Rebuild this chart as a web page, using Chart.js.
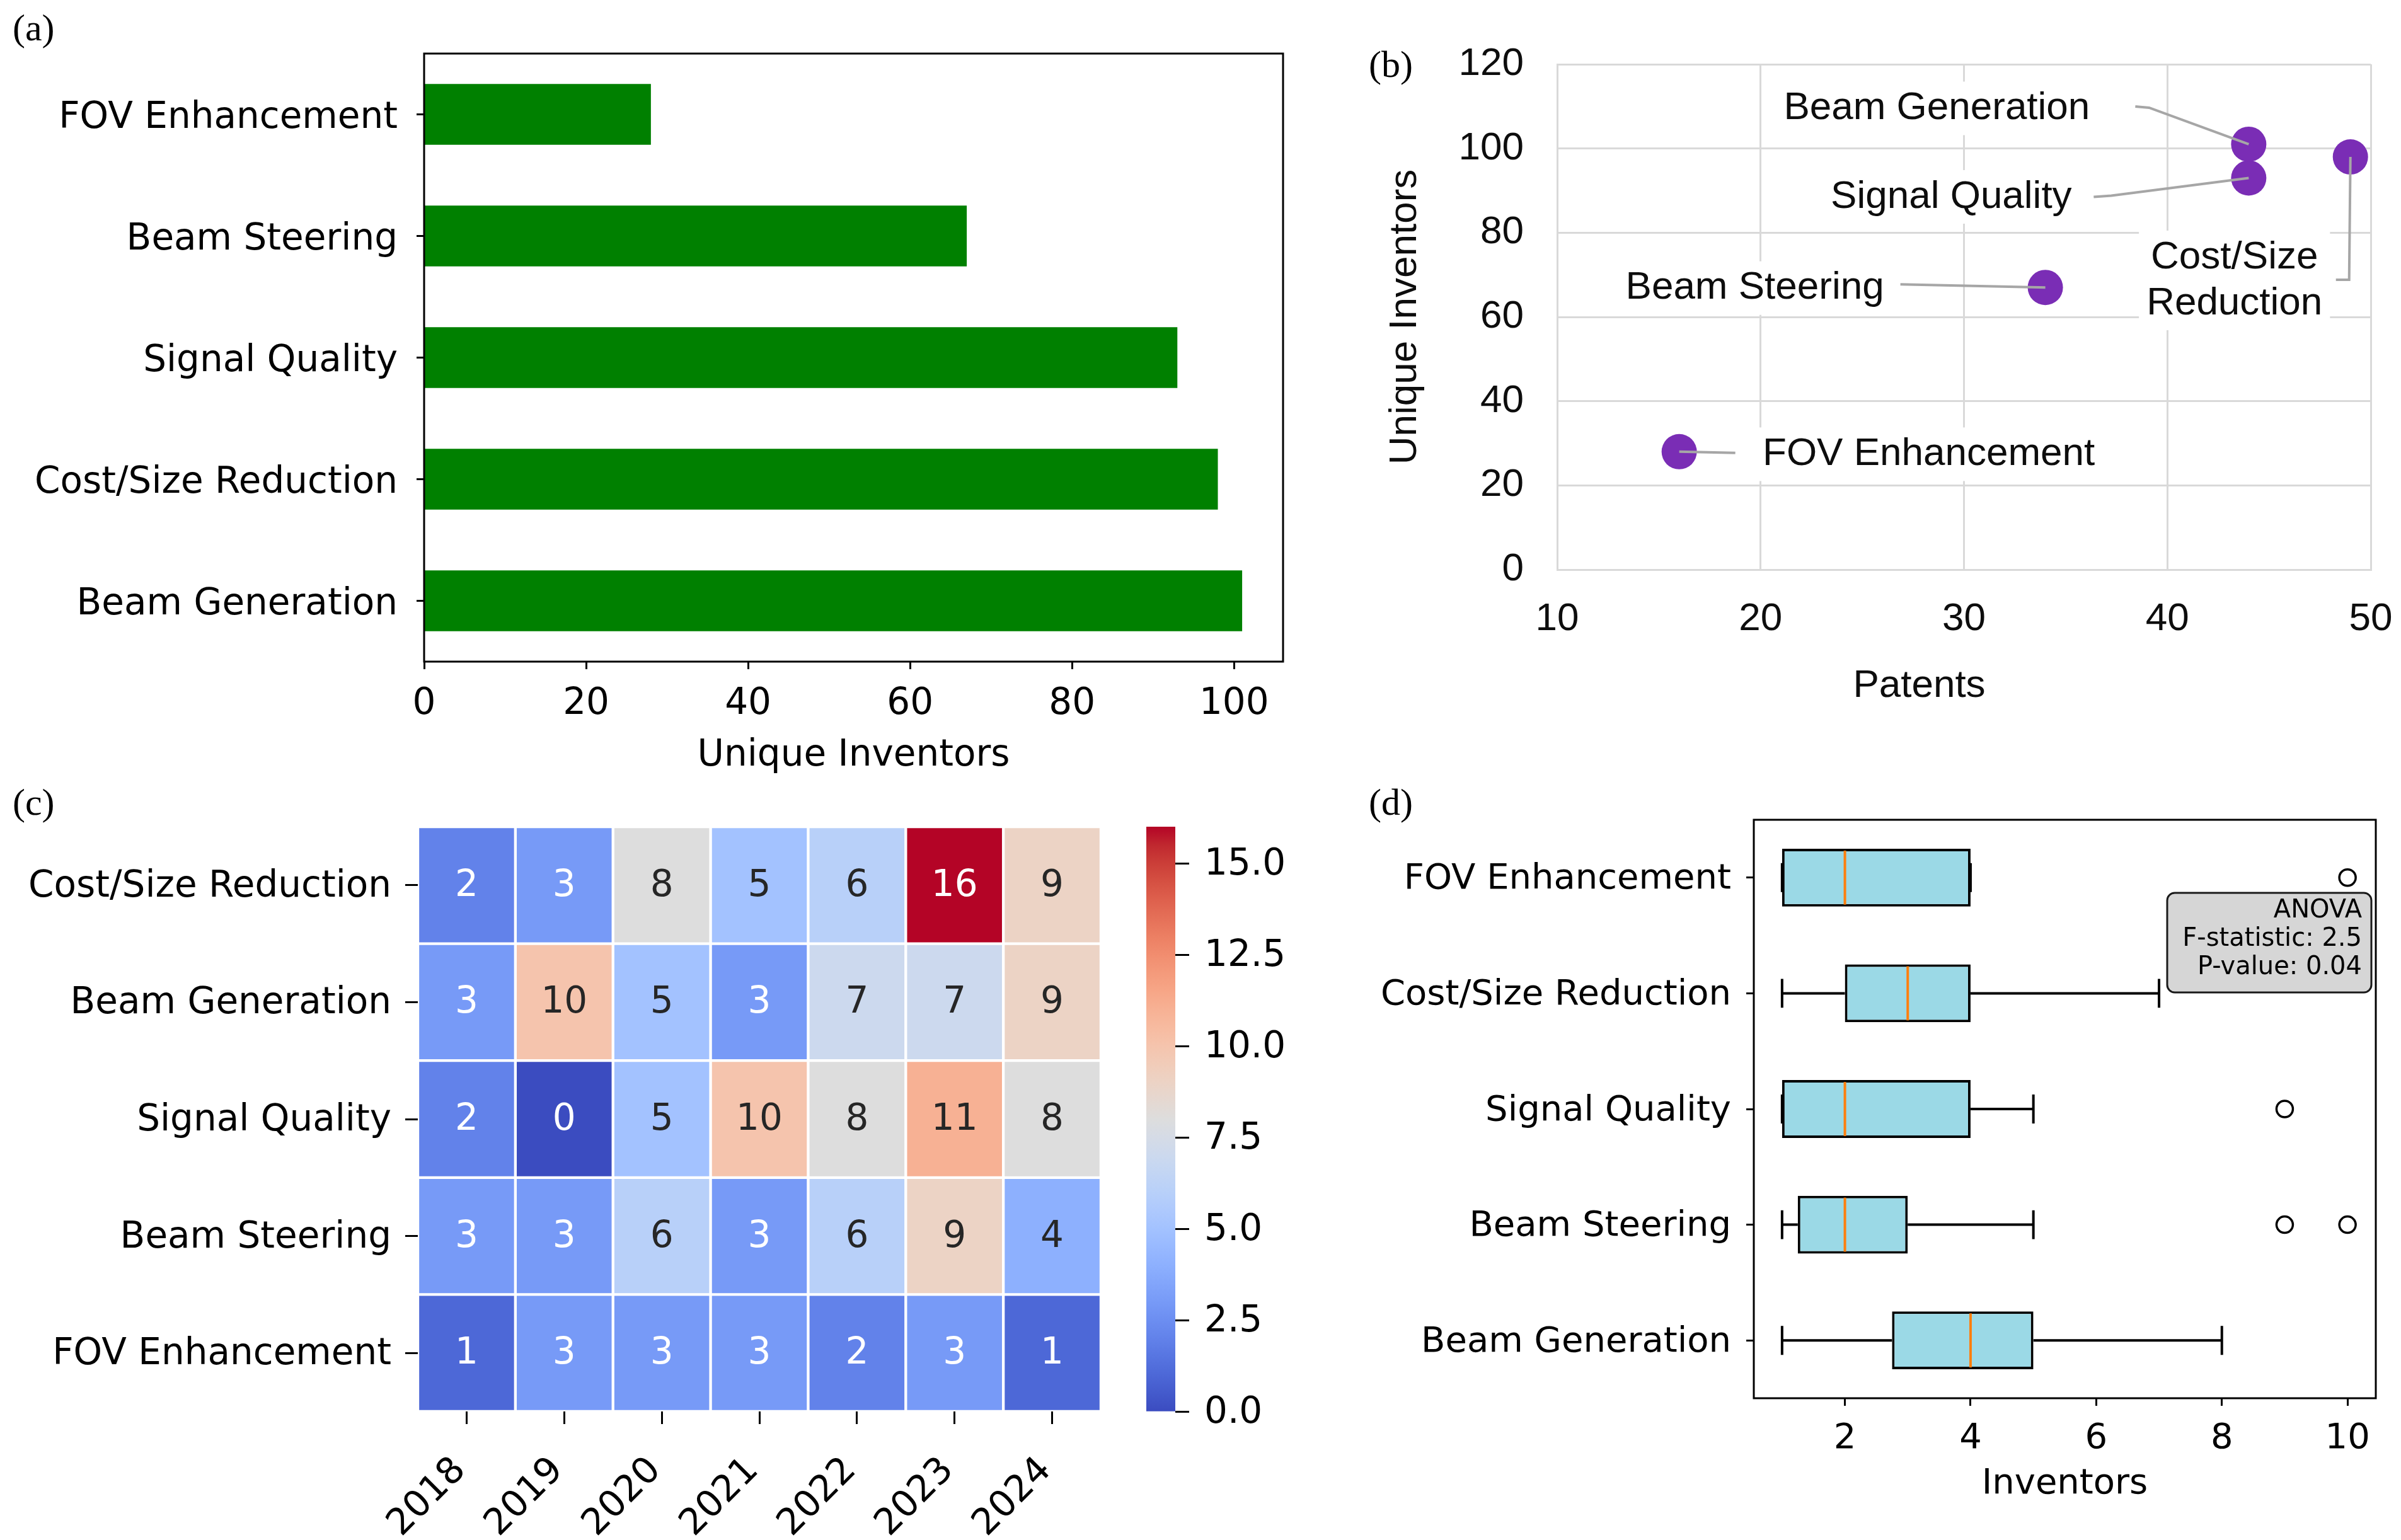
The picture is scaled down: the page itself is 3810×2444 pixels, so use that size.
<!DOCTYPE html>
<html>
<head>
<meta charset="utf-8">
<script src="https://cdn.jsdelivr.net/npm/chart.js@4.4.1/dist/chart.umd.min.js"></script>
<style>
  html, body { margin: 0; padding: 0; background: #fff; }
  body { width: 3810px; height: 2444px; position: relative; overflow: hidden; }
  .box { position: absolute; }
  .tag { position: absolute; font-family: "Liberation Serif", "Times New Roman", serif; font-size: 60px; line-height: 1; color: #000; }
</style>
</head>
<body>
<div class="tag" style="left:20px;top:14px">(a)</div>
<div class="tag" style="left:2172px;top:72px">(b)</div>
<div class="tag" style="left:20px;top:1243px">(c)</div>
<div class="tag" style="left:2172px;top:1243px">(d)</div>

<div class="box" style="left:0;top:0;width:2080px;height:1240px"><canvas id="barChart"></canvas></div>
<div class="box" style="left:2150px;top:0;width:1660px;height:1180px"><canvas id="scatterChart"></canvas></div>
<div class="box" style="left:0;top:1230px;width:1790px;height:1214px"><canvas id="heatChart"></canvas></div>
<div class="box" style="left:1779px;top:1230px;width:330px;height:1214px"><canvas id="cbarChart"></canvas></div>
<div class="box" style="left:2150px;top:1230px;width:1660px;height:1214px"><canvas id="boxChart"></canvas></div>

<script>
// (a) + (b) topic totals
const topics = ["FOV Enhancement", "Beam Steering", "Signal Quality", "Cost/Size Reduction", "Beam Generation"];
const inventorTotals = [28, 67, 93, 98, 101];
const patentTotals = [16, 34, 44, 49, 44];

// (c) yearly heatmap
const years = ["2018", "2019", "2020", "2021", "2022", "2023", "2024"];
const heatRows = ["Cost/Size Reduction", "Beam Generation", "Signal Quality", "Beam Steering", "FOV Enhancement"];
const costSizeByYear = [2, 3, 8, 5, 6, 16, 9];
const beamGenByYear = [3, 10, 5, 3, 7, 7, 9];
const signalByYear = [2, 0, 5, 10, 8, 11, 8];
const steeringByYear = [3, 3, 6, 3, 6, 9, 4];
const fovByYear = [1, 3, 3, 3, 2, 3, 1];
const heatValues = [costSizeByYear, beamGenByYear, signalByYear, steeringByYear, fovByYear];
const colorMin = 0, colorMax = 16;
const colorTicks = [0, 2.5, 5, 7.5, 10, 12.5, 15];

// (d) inventors per patent, box stats
const boxTopics = ["FOV Enhancement", "Cost/Size Reduction", "Signal Quality", "Beam Steering", "Beam Generation"];
const boxMin = [1, 1, 1, 1, 1];
const boxQ1 = [1, 2, 1, 1.25, 2.75];
const boxMedian = [2, 3, 2, 2, 4];
const boxQ3 = [4, 4, 4, 3, 5];
const boxMax = [4, 7, 5, 5, 8];
const outlierTopics = ["FOV Enhancement", "Signal Quality", "Beam Steering", "Beam Steering"];
const outlierValues = [10, 9, 9, 10];
const anovaLines = ["ANOVA", "F-statistic: 2.5", "P-value: 0.04"];

const MPL = "'DejaVu Sans', sans-serif";
const XL = "'Liberation Sans', Arial, sans-serif";
Chart.defaults.font.family = MPL;
Chart.defaults.color = "#000";

// matplotlib coolwarm
const coolwarmStops = [
  [59,76,192],[68,90,204],[77,104,215],[87,117,225],[98,130,234],[108,142,241],[119,154,247],[130,165,251],
  [141,176,254],[152,185,255],[163,194,255],[174,201,253],[184,208,249],[194,213,244],[204,217,238],[213,219,230],
  [221,221,221],[229,216,209],[236,211,197],[241,204,185],[245,196,173],[247,187,160],[247,177,148],[247,166,135],
  [244,154,123],[241,141,111],[236,127,99],[229,112,88],[222,96,77],[213,80,66],[203,62,56],[192,40,47],[180,4,38]
];
function coolwarmRGB(t) {
  t = Math.max(0, Math.min(1, t));
  const p = t * 32, i = Math.min(31, Math.floor(p)), f = p - i;
  const a = coolwarmStops[i], b = coolwarmStops[i + 1];
  return a.map((c, k) => Math.round(c + (b[k] - c) * f));
}
const rgb = c => `rgb(${c[0]},${c[1]},${c[2]})`;
function annotColor(rgbArr) {
  const lin = rgbArr.map(v => { v /= 255; return v <= 0.03928 ? v / 12.92 : Math.pow((v + 0.055) / 1.055, 2.4); });
  const lum = 0.2126 * lin[0] + 0.7152 * lin[1] + 0.0722 * lin[2];
  return lum > 0.408 ? "#262626" : "#ffffff";
}

const framePlugin = {
  id: "frame",
  afterDatasetsDraw(chart) {
    const { ctx, chartArea: a } = chart;
    ctx.save();
    ctx.strokeStyle = "#000";
    ctx.lineWidth = 3;
    ctx.strokeRect(a.left, a.top, a.right - a.left, a.bottom - a.top);
    ctx.restore();
  }
};

const fixedTicks = vals => scale => { scale.ticks = vals.map(v => ({ value: v })); };
const mplGrid = len => ({ drawOnChartArea: false, offset: false, tickLength: len, tickWidth: 3, tickColor: "#000" });

// ---------- (a) bar ----------
new Chart(document.getElementById("barChart"), {
  type: "bar",
  data: {
    labels: topics,
    datasets: [{ data: inventorTotals, backgroundColor: "#008000", barPercentage: 0.5, categoryPercentage: 1 }]
  },
  options: {
    indexAxis: "y",
    responsive: true, maintainAspectRatio: false, animation: false, devicePixelRatio: 1,
    layout: { padding: { top: 85, right: 44, left: 0, bottom: 0 } },
    plugins: { legend: { display: false }, tooltip: { enabled: false } },
    scales: {
      x: {
        min: 0, max: 106.05,
        afterBuildTicks: fixedTicks([0, 20, 40, 60, 80, 100]),
        afterFit: s => { s.height = 190; },
        grid: mplGrid(12), border: { display: false },
        ticks: { font: { size: 58 }, padding: 21, maxRotation: 0 },
        title: { display: true, text: "Unique Inventors", font: { size: 58 }, padding: { top: 0, bottom: 5 } }
      },
      y: {
        afterFit: s => { s.width = 673; },
        grid: mplGrid(12), border: { display: false },
        ticks: { font: { size: 58 }, padding: 30, labelOffset: 6 }
      }
    }
  },
  plugins: [framePlugin]
});

// ---------- (b) scatter ----------
const scatterCallouts = [
  { lines: ["FOV Enhancement"], dx: 396, dy: 4, path: [[89, 2], [0, 0]] },
  { lines: ["Beam Steering"], dx: -461, dy: 1, path: [[-230, -5], [0, 0]] },
  { lines: ["Signal Quality"], dx: -472, dy: 30, path: [[-246, 30], [-218, 28], [0, 0]] },
  { lines: ["Cost/Size", "Reduction"], dx: -184, dy: 196, path: [[-23, 195], [-2, 195], [0, 0]] },
  { lines: ["Beam Generation"], dx: -495, dy: -57, path: [[-180, -60], [-158, -58], [0, 0]] }
];
const calloutPlugin = {
  id: "callouts",
  afterDatasetsDraw(chart) {
    const { ctx, chartArea: a } = chart;
    const pts = chart.getDatasetMeta(0).data;
    const lh = 73;
    ctx.save();
    ctx.font = "62px " + XL;
    scatterCallouts.forEach((c, i) => {
      const p = pts[i];
      const cx = p.x + c.dx, cy = p.y + c.dy;
      const w = Math.max(...c.lines.map(l => ctx.measureText(l).width));
      const h = lh * c.lines.length;
      ctx.fillStyle = "#fff";
      ctx.fillRect(cx - w / 2 - 12, cy - h / 2 - 6, w + 24, h + 12);
      ctx.fillStyle = "#0d0d0d";
      ctx.textAlign = "center";
      ctx.textBaseline = "middle";
      c.lines.forEach((l, k) => ctx.fillText(l, cx, cy - h / 2 + lh * (k + 0.5)));
      ctx.strokeStyle = "#a6a6a6";
      ctx.lineWidth = 4;
      ctx.beginPath();
      c.path.forEach(([x, y], k) => k ? ctx.lineTo(p.x + x, p.y + y) : ctx.moveTo(p.x + x, p.y + y));
      ctx.stroke();
    });
    // x-axis title, set left of centre as in the Excel original
    ctx.fillStyle = "#0d0d0d";
    ctx.textAlign = "center";
    ctx.textBaseline = "middle";
    ctx.fillText("Patents", (a.left + a.right) / 2 - 71, a.bottom + 185);
    ctx.restore();
  }
};
new Chart(document.getElementById("scatterChart"), {
  type: "scatter",
  data: {
    datasets: [{
      data: topics.map((t, i) => ({ x: patentTotals[i], y: inventorTotals[i] })),
      backgroundColor: "#7a2db5", borderWidth: 0, pointRadius: 28
    }]
  },
  options: {
    responsive: true, maintainAspectRatio: false, animation: false, devicePixelRatio: 1,
    layout: { padding: { top: 102, right: 48, left: 0, bottom: 0 } },
    plugins: { legend: { display: false }, tooltip: { enabled: false } },
    scales: {
      x: {
        min: 10, max: 50,
        afterBuildTicks: fixedTicks([10, 20, 30, 40, 50]),
        afterFit: s => { s.height = 276; },
        // invisible tick marks give the label gap without widening the right padding
        grid: { color: "#d9d9d9", lineWidth: 3, drawTicks: true, tickLength: 42, tickColor: "rgba(0,0,0,0)" },
        border: { color: "#d9d9d9", width: 3 },
        ticks: { font: { size: 62, family: XL }, color: "#0d0d0d", padding: 0, maxRotation: 0 }
      },
      y: {
        min: 0, max: 120,
        afterBuildTicks: fixedTicks([0, 20, 40, 60, 80, 100, 120]),
        afterFit: s => { s.width = 321; },
        grid: { color: "#d9d9d9", lineWidth: 3, drawTicks: false },
        border: { color: "#d9d9d9", width: 3 },
        ticks: { font: { size: 62, family: XL }, color: "#0d0d0d", padding: 53 },
        title: { display: true, text: "Unique Inventors", font: { size: 62, family: XL }, color: "#0d0d0d", padding: { top: 43, bottom: 0 } }
      }
    }
  },
  plugins: [calloutPlugin]
});

// ---------- (c) heatmap ----------
const heatLabelPlugin = {
  id: "heatLabels",
  afterDatasetsDraw(chart) {
    const ctx = chart.ctx;
    ctx.save();
    ctx.font = "58px " + MPL;
    ctx.textAlign = "center";
    ctx.textBaseline = "middle";
    heatValues.forEach((row, r) => {
      const meta = chart.getDatasetMeta(r);
      row.forEach((v, c) => {
        const p = meta.data[c].getCenterPoint();
        ctx.fillStyle = annotColor(coolwarmRGB((v - colorMin) / (colorMax - colorMin)));
        ctx.fillText(String(v), p.x, p.y + 2);
      });
    });
    ctx.restore();
  }
};
new Chart(document.getElementById("heatChart"), {
  type: "bar",
  data: {
    labels: years,
    datasets: heatValues.map((row, r) => ({
      label: heatRows[r],
      data: row.map(() => [r - 0.5, r + 0.5]),
      backgroundColor: row.map(v => rgb(coolwarmRGB((v - colorMin) / (colorMax - colorMin)))),
      borderColor: "#fff", borderWidth: 2.5, borderSkipped: false,
      barPercentage: 1, categoryPercentage: 1, grouped: false
    }))
  },
  options: {
    responsive: true, maintainAspectRatio: false, animation: false, devicePixelRatio: 1,
    layout: { padding: { top: 82, right: 43, left: 0, bottom: 0 } },
    plugins: { legend: { display: false }, tooltip: { enabled: false } },
    scales: {
      x: {
        afterFit: s => { s.height = 204; },
        grid: mplGrid(20), border: { display: false },
        ticks: { font: { size: 58 }, padding: 40, labelOffset: -10, minRotation: 45, maxRotation: 45, autoSkip: false }
      },
      y: {
        min: -0.5, max: 4.5, reverse: true,
        afterBuildTicks: fixedTicks([0, 1, 2, 3, 4]),
        afterFit: s => { s.width = 663; },
        grid: mplGrid(20), border: { display: false },
        ticks: { font: { size: 58 }, padding: 22, labelOffset: 3, callback: v => heatRows[v] }
      }
    }
  },
  plugins: [heatLabelPlugin]
});

// colorbar
new Chart(document.getElementById("cbarChart"), {
  type: "bar",
  data: {
    labels: [""],
    datasets: [{
      data: [[colorMin, colorMax]],
      barPercentage: 1, categoryPercentage: 1, borderWidth: 0,
      backgroundColor: ctx => {
        const a = ctx.chart.chartArea;
        if (!a) return "#ccc";
        const g = ctx.chart.ctx.createLinearGradient(0, a.bottom, 0, a.top);
        coolwarmStops.forEach((c, i) => g.addColorStop(i / 32, rgb(c)));
        return g;
      }
    }]
  },
  options: {
    responsive: true, maintainAspectRatio: false, animation: false, devicePixelRatio: 1,
    layout: { padding: { top: 82, right: 0, left: 40, bottom: 204 } },
    plugins: { legend: { display: false }, tooltip: { enabled: false } },
    scales: {
      x: { display: false },
      y: {
        position: "right", min: colorMin, max: colorMax,
        afterBuildTicks: fixedTicks(colorTicks),
        afterFit: s => { s.width = 244; },
        grid: mplGrid(22), border: { display: false },
        ticks: { font: { size: 58 }, padding: 24, labelOffset: 3, callback: v => Number(v).toFixed(1) }
      }
    }
  }
});

// ---------- (d) box plot ----------
const boxPlugin = {
  id: "boxParts",
  beforeDatasetsDraw(chart) {
    const { ctx, scales: { x, y } } = chart;
    const meta = chart.getDatasetMeta(0);
    ctx.save();
    ctx.strokeStyle = "#000";
    ctx.lineWidth = 4;
    boxTopics.forEach((t, i) => {
      const h = meta.data[i].height;
      const yc = y.getPixelForValue(i);
      const [x0, x1, x2, x3] = [boxMin[i], boxQ1[i], boxQ3[i], boxMax[i]].map(v => x.getPixelForValue(v));
      ctx.beginPath();
      ctx.moveTo(x0, yc); ctx.lineTo(x1, yc);
      ctx.moveTo(x2, yc); ctx.lineTo(x3, yc);
      ctx.moveTo(x0, yc - h / 4); ctx.lineTo(x0, yc + h / 4);
      ctx.moveTo(x3, yc - h / 4); ctx.lineTo(x3, yc + h / 4);
      ctx.stroke();
    });
    ctx.restore();
  },
  afterDatasetsDraw(chart) {
    const { ctx, scales: { x, y }, chartArea: a } = chart;
    const meta = chart.getDatasetMeta(0);
    ctx.save();
    ctx.strokeStyle = "#ff7f0e";
    ctx.lineWidth = 4;
    boxTopics.forEach((t, i) => {
      const h = meta.data[i].height;
      const yc = y.getPixelForValue(i);
      const xm = x.getPixelForValue(boxMedian[i]);
      ctx.beginPath();
      ctx.moveTo(xm, yc - h / 2 + 3); ctx.lineTo(xm, yc + h / 2 - 3);
      ctx.stroke();
    });
    // ANOVA text box
    const bx0 = a.right - 331, bx1 = a.right - 7, by0 = a.top + 116, by1 = a.top + 274;
    ctx.beginPath();
    ctx.roundRect(bx0, by0, bx1 - bx0, by1 - by0, 12);
    ctx.fillStyle = "#d6d6d6";
    ctx.fill();
    ctx.strokeStyle = "#1a1a1a";
    ctx.lineWidth = 3;
    ctx.stroke();
    ctx.fillStyle = "#000";
    ctx.font = "40px " + MPL;
    ctx.textAlign = "right";
    ctx.textBaseline = "middle";
    anovaLines.forEach((l, k) => ctx.fillText(l, a.right - 22, a.top + 145 + k * 45));
    ctx.restore();
  }
};
new Chart(document.getElementById("boxChart"), {
  type: "bar",
  data: {
    labels: boxTopics,
    datasets: [
      {
        type: "bar",
        data: boxTopics.map((t, i) => [boxQ1[i], boxQ3[i]]),
        backgroundColor: "#9bd9e6", borderColor: "#000", borderWidth: 4, borderSkipped: false,
        barPercentage: 0.5, categoryPercentage: 1
      },
      {
        type: "scatter", indexAxis: "x",
        data: outlierValues.map((v, i) => ({ x: v, y: outlierTopics[i] })),
        pointRadius: 13, borderWidth: 3.5, borderColor: "#000", backgroundColor: "rgba(0,0,0,0)"
      }
    ]
  },
  options: {
    indexAxis: "y",
    responsive: true, maintainAspectRatio: false, animation: false, devicePixelRatio: 1,
    layout: { padding: { top: 71, right: 40, left: 0, bottom: 0 } },
    plugins: { legend: { display: false }, tooltip: { enabled: false } },
    scales: {
      x: {
        type: "linear", min: 0.55, max: 10.45,
        afterBuildTicks: fixedTicks([2, 4, 6, 8, 10]),
        afterFit: s => { s.height = 225; },
        grid: mplGrid(12), border: { display: false },
        ticks: { font: { size: 56 }, padding: 19, maxRotation: 0 },
        title: { display: true, text: "Inventors", font: { size: 56 }, padding: { top: 0, bottom: 55 } }
      },
      y: {
        type: "category", labels: boxTopics, offset: true,
        afterFit: s => { s.width = 633; },
        grid: mplGrid(12), border: { display: false },
        ticks: { font: { size: 56 }, padding: 24, labelOffset: 3 }
      }
    }
  },
  plugins: [boxPlugin, framePlugin]
});
</script>
</body>
</html>
